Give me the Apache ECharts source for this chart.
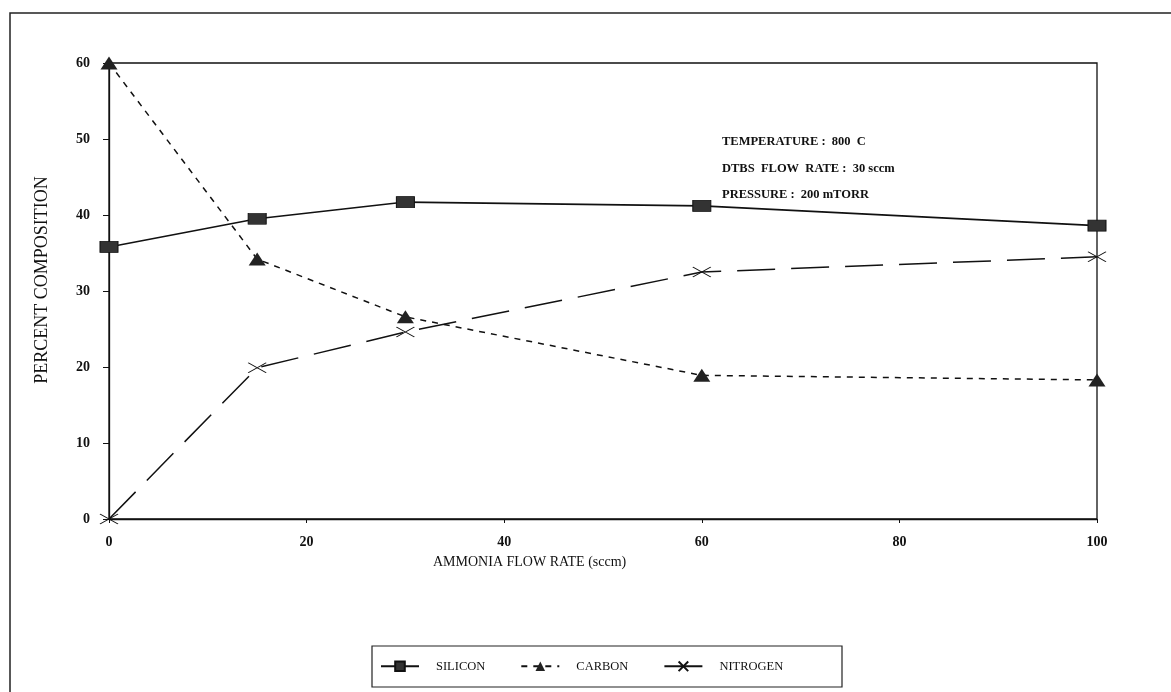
<!DOCTYPE html>
<html>
<head>
<meta charset="utf-8">
<script src="https://cdn.jsdelivr.net/npm/echarts@6/dist/echarts.min.js"></script>
<style>
  html, body { margin: 0; padding: 0; background: #fff; }
  #chart { width: 1171px; height: 692px; }
</style>
</head>
<body>
<div id="chart"></div>
<script>
// Ammonia flow rate (sccm) and film composition (%)
const flowRates = [0, 15, 30, 60, 100];
const silicon  = [35.8, 39.5, 41.7, 41.2, 38.6];
const carbon   = [60.0, 34.2, 26.6, 18.9, 18.3];
const nitrogen = [0.0, 19.9, 24.6, 32.5, 34.5];
const seriesNames = ['SILICON', 'CARBON', 'NITROGEN'];
const conditions = [
  'TEMPERATURE :  800  C',
  'DTBS  FLOW  RATE :  30 sccm',
  'PRESSURE :  200 mTORR'
];

const FONT = '"Liberation Serif", "DejaVu Serif", serif';
const pairs = vals => flowRates.map((x, i) => [x, vals[i]]);
const crossPath = 'path://M0,0 L20,12 M0,12 L20,0';

const chart = echarts.init(document.getElementById('chart'), null, { renderer: 'canvas' });

chart.setOption({
  backgroundColor: '#fff',
  animation: false,
  grid: {
    left: 109, right: 74, top: 63, bottom: 173,
    show: true, borderColor: '#111', borderWidth: 1.3, backgroundColor: 'transparent'
  },
  xAxis: {
    type: 'value', min: 0, max: 100, interval: 20,
    axisLine: { show: true, lineStyle: { color: '#111', width: 1.3 } },
    axisTick: { show: true, length: 4, lineStyle: { color: '#111' } },
    splitLine: { show: false },
    axisLabel: { color: '#111', fontFamily: FONT, fontSize: 14, fontWeight: 'bold', margin: 16 }
  },
  yAxis: {
    type: 'value', min: 0, max: 60, interval: 10,
    axisLine: { show: true, lineStyle: { color: '#111', width: 1.3 } },
    axisTick: { show: true, length: 6, lineStyle: { color: '#111' } },
    splitLine: { show: false },
    axisLabel: { color: '#111', fontFamily: FONT, fontSize: 14, fontWeight: 'bold', margin: 19 }
  },
  legend: {
    data: seriesNames,
    left: 380, top: 659, padding: 0,
    itemWidth: 38, itemHeight: 12, itemGap: 35,
    textStyle: { color: '#111', fontFamily: FONT, fontSize: 12.5, padding: [0, 0, 0, 12] }
  },
  graphic: [
    // outer frame of the figure
    { type: 'rect', shape: { x: 10, y: 13, width: 1200, height: 720 },
      style: { fill: 'none', stroke: '#222', lineWidth: 1.5 }, silent: true },
    // legend box
    { type: 'rect', shape: { x: 372, y: 646, width: 470, height: 41 },
      style: { fill: 'none', stroke: '#222', lineWidth: 1.2 }, silent: true },
    // axis titles
    { type: 'text', left: 433, top: 555,
      style: { text: 'AMMONIA FLOW RATE (sccm)', fill: '#111', font: '14px ' + FONT } },
    { type: 'text', x: 42, y: 280, rotation: Math.PI / 2,
      style: { text: 'PERCENT COMPOSITION', fill: '#111', font: '18px ' + FONT,
               align: 'center', verticalAlign: 'middle' } },
    // process conditions
    { type: 'text', left: 722, top: 129,
      style: { text: conditions.join('\n'), fill: '#111', font: 'bold 12.5px ' + FONT, lineHeight: 26.5 } }
  ],
  series: [
    {
      name: seriesNames[0], type: 'line', data: pairs(silicon),
      symbol: 'rect', symbolSize: [18, 11],
      lineStyle: { color: '#111', width: 1.6, type: 'solid' },
      itemStyle: { color: '#333', borderColor: '#111', borderWidth: 0.8 },
      z: 3
    },
    {
      name: seriesNames[1], type: 'line', data: pairs(carbon),
      symbol: 'triangle', symbolSize: [17, 13],
      lineStyle: { color: '#111', width: 1.5, type: [6, 6] },
      itemStyle: { color: '#222' },
      z: 2
    },
    {
      name: seriesNames[2], type: 'line', data: pairs(nitrogen),
      symbol: crossPath, symbolSize: [18, 10], symbolKeepAspect: false,
      lineStyle: { color: '#111', width: 1.5, type: [38, 16] },
      itemStyle: { color: 'none', borderColor: '#111', borderWidth: 1 },
      z: 2
    }
  ]
});
</script>
</body>
</html>
